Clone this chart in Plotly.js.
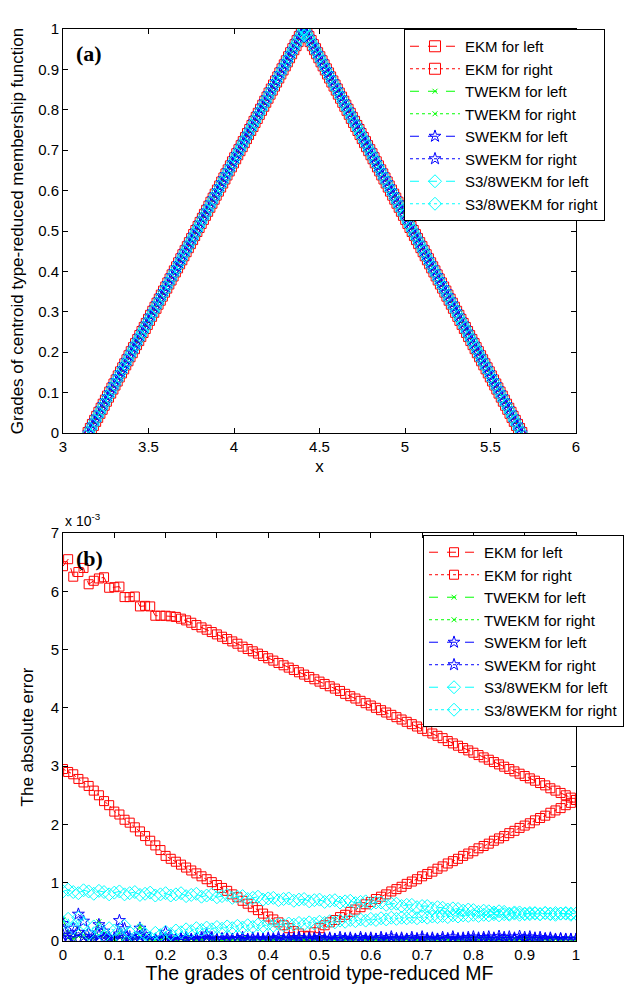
<!DOCTYPE html>
<html>
<head>
<meta charset="utf-8">
<script src="https://cdn.plot.ly/plotly-3.0.1.min.js"></script>
<style>
html,body{margin:0;padding:0;background:#fff;}
#chart{width:627px;height:984px;}
</style>
</head>
<body>
<div id="chart"></div>
<script>
// ---------- data ----------
const grades = [0,0.01,0.02,0.03,0.04,0.05,0.06,0.07,0.08,0.09,
0.10,0.11,0.12,0.13,0.14,0.15,0.16,0.17,0.18,0.19,
0.20,0.21,0.22,0.23,0.24,0.25,0.26,0.27,0.28,0.29,
0.30,0.31,0.32,0.33,0.34,0.35,0.36,0.37,0.38,0.39,
0.40,0.41,0.42,0.43,0.44,0.45,0.46,0.47,0.48,0.49,
0.50,0.51,0.52,0.53,0.54,0.55,0.56,0.57,0.58,0.59,
0.60,0.61,0.62,0.63,0.64,0.65,0.66,0.67,0.68,0.69,
0.70,0.71,0.72,0.73,0.74,0.75,0.76,0.77,0.78,0.79,
0.80,0.81,0.82,0.83,0.84,0.85,0.86,0.87,0.88,0.89,
0.90,0.91,0.92,0.93,0.94,0.95,0.96,0.97,0.98,0.99,1.00];

// (a) left / right end points of the type-reduced set (x) at each grade
const leftX = [3.150,3.163,3.175,3.188,3.200,3.213,3.226,3.238,3.251,3.263,
3.276,3.289,3.301,3.314,3.326,3.339,3.352,3.364,3.377,3.389,
3.402,3.415,3.427,3.440,3.452,3.465,3.478,3.490,3.503,3.515,
3.528,3.541,3.553,3.566,3.578,3.591,3.604,3.616,3.629,3.641,
3.654,3.667,3.679,3.692,3.704,3.717,3.730,3.742,3.755,3.767,
3.780,3.793,3.805,3.818,3.830,3.843,3.856,3.868,3.881,3.893,
3.906,3.919,3.931,3.944,3.956,3.969,3.982,3.994,4.007,4.019,
4.032,4.045,4.057,4.070,4.082,4.095,4.108,4.120,4.133,4.145,
4.158,4.171,4.183,4.196,4.208,4.221,4.234,4.246,4.259,4.271,
4.284,4.297,4.309,4.322,4.334,4.347,4.360,4.372,4.385,4.397,4.410];
const rightX = [5.680,5.667,5.655,5.642,5.629,5.617,5.604,5.591,5.578,5.566,
5.553,5.540,5.528,5.515,5.502,5.490,5.477,5.464,5.451,5.439,
5.426,5.413,5.401,5.388,5.375,5.363,5.350,5.337,5.324,5.312,
5.299,5.286,5.274,5.261,5.248,5.236,5.223,5.210,5.197,5.185,
5.172,5.159,5.147,5.134,5.121,5.109,5.096,5.083,5.070,5.058,
5.045,5.032,5.020,5.007,4.994,4.982,4.969,4.956,4.943,4.931,
4.918,4.905,4.893,4.880,4.867,4.855,4.842,4.829,4.816,4.804,
4.791,4.778,4.766,4.753,4.740,4.728,4.715,4.702,4.689,4.677,
4.664,4.651,4.639,4.626,4.613,4.601,4.588,4.575,4.562,4.550,
4.537,4.524,4.512,4.499,4.486,4.474,4.461,4.448,4.435,4.423,4.410];

// (b) absolute errors, in units of 1e-3
const ekmLeftErr = [6.43,6.55,6.25,6.33,6.40,6.12,6.18,6.22,6.24,6.06,
6.07,6.08,5.90,5.90,5.91,5.74,5.75,5.74,5.58,5.58,
5.58,5.57,5.56,5.53,5.50,5.46,5.42,5.38,5.34,5.30,
5.26,5.22,5.18,5.14,5.10,5.05,5.01,4.97,4.93,4.89,
4.85,4.81,4.77,4.73,4.69,4.65,4.61,4.57,4.53,4.49,
4.45,4.41,4.37,4.33,4.29,4.24,4.20,4.16,4.12,4.08,
4.04,4.00,3.96,3.92,3.88,3.84,3.80,3.76,3.72,3.68,
3.64,3.60,3.56,3.52,3.48,3.43,3.39,3.35,3.31,3.27,
3.23,3.19,3.15,3.11,3.07,3.03,2.99,2.95,2.91,2.87,
2.83,2.79,2.75,2.71,2.67,2.62,2.58,2.54,2.50,2.46,2.42];
const ekmRightErr = [2.95,2.90,2.86,2.78,2.72,2.66,2.58,2.50,2.40,2.33,
2.22,2.17,2.08,2.03,1.95,1.88,1.80,1.72,1.64,1.56,
1.46,1.41,1.36,1.31,1.26,1.21,1.16,1.11,1.06,1.01,
0.96,0.91,0.86,0.80,0.75,0.69,0.64,0.58,0.53,0.47,
0.42,0.37,0.32,0.27,0.22,0.17,0.13,0.09,0.08,0.15,
0.22,0.27,0.32,0.36,0.41,0.45,0.50,0.54,0.58,0.63,
0.67,0.72,0.76,0.80,0.85,0.89,0.93,0.98,1.02,1.06,
1.11,1.15,1.19,1.24,1.28,1.33,1.37,1.41,1.46,1.50,
1.54,1.59,1.63,1.67,1.72,1.76,1.80,1.85,1.89,1.94,
1.98,2.02,2.07,2.11,2.15,2.20,2.24,2.28,2.33,2.37,2.42];
const twekmLeftErr = [0.36,0.15,0.06,0.20,0.10,0.04,0.08,0.33,0.12,0.04,
0.03,0.14,0.06,0.03,0.04,0.25,0.09,0.03,0.02,0.03,
0.08,0.03,0.02,0.03,0.02,0.03,0.02,0.03,0.05,0.02,
0.03,0.02,0.03,0.02,0.03,0.02,0.03,0.02,0.03,0.02,
0.03,0.02,0.03,0.02,0.03,0.02,0.03,0.02,0.03,0.02,
0.03,0.02,0.03,0.02,0.03,0.02,0.03,0.02,0.03,0.02,
0.03,0.02,0.03,0.02,0.03,0.02,0.03,0.02,0.03,0.02,
0.03,0.02,0.03,0.02,0.03,0.02,0.03,0.02,0.03,0.02,
0.03,0.02,0.03,0.02,0.03,0.02,0.03,0.02,0.03,0.02,
0.03,0.02,0.03,0.02,0.03,0.02,0.03,0.02,0.03,0.02,0.02];
const twekmRightErr = [0.12,0.05,0.04,0.08,0.05,0.04,0.04,0.10,0.05,0.04,
0.04,0.06,0.04,0.04,0.04,0.07,0.04,0.04,0.04,0.04,
0.05,0.04,0.04,0.04,0.04,0.04,0.04,0.04,0.04,0.04,
0.04,0.04,0.04,0.04,0.04,0.04,0.04,0.04,0.04,0.04,
0.04,0.04,0.04,0.04,0.04,0.04,0.04,0.04,0.04,0.04,
0.04,0.04,0.04,0.04,0.04,0.04,0.04,0.04,0.04,0.04,
0.04,0.04,0.04,0.04,0.04,0.04,0.04,0.04,0.04,0.04,
0.04,0.04,0.04,0.04,0.04,0.04,0.04,0.04,0.04,0.04,
0.04,0.04,0.04,0.04,0.04,0.04,0.04,0.04,0.04,0.04,
0.04,0.04,0.04,0.04,0.04,0.04,0.04,0.04,0.04,0.04,0.04];
const swekmLeftErr = [0.30,0.10,0.22,0.46,0.34,0.14,0.05,0.28,0.17,0.06,
0.04,0.35,0.21,0.07,0.04,0.22,0.11,0.04,0.03,0.05,
0.15,0.07,0.03,0.04,0.06,0.03,0.04,0.05,0.12,0.05,
0.03,0.04,0.05,0.03,0.04,0.06,0.03,0.05,0.04,0.03,
0.05,0.04,0.06,0.03,0.05,0.04,0.06,0.03,0.05,0.04,
0.06,0.04,0.05,0.03,0.06,0.04,0.05,0.03,0.06,0.04,
0.05,0.03,0.06,0.04,0.07,0.04,0.05,0.03,0.06,0.04,
0.07,0.04,0.05,0.03,0.06,0.04,0.07,0.04,0.05,0.06,
0.07,0.05,0.06,0.07,0.05,0.08,0.06,0.07,0.05,0.08,
0.06,0.07,0.05,0.06,0.04,0.05,0.03,0.04,0.03,0.03,0.03];
const swekmRightErr = [0.10,0.04,0.06,0.15,0.08,0.03,0.02,0.10,0.05,0.02,
0.02,0.12,0.06,0.02,0.02,0.08,0.04,0.02,0.02,0.02,
0.05,0.02,0.02,0.03,0.02,0.02,0.03,0.02,0.04,0.02,
0.02,0.03,0.02,0.02,0.03,0.02,0.02,0.03,0.02,0.02,
0.03,0.02,0.02,0.03,0.02,0.02,0.03,0.02,0.02,0.03,
0.02,0.02,0.03,0.02,0.02,0.03,0.02,0.02,0.03,0.02,
0.02,0.03,0.02,0.02,0.03,0.02,0.02,0.03,0.02,0.02,
0.03,0.02,0.02,0.03,0.02,0.02,0.03,0.02,0.02,0.03,
0.02,0.02,0.03,0.02,0.02,0.03,0.02,0.02,0.03,0.02,
0.02,0.03,0.02,0.02,0.03,0.02,0.02,0.03,0.02,0.02,0.02];
const s38LeftErr = [0.85,0.88,0.84,0.82,0.87,0.85,0.81,0.86,0.84,0.80,
0.83,0.85,0.80,0.82,0.84,0.79,0.81,0.83,0.78,0.80,
0.82,0.78,0.80,0.82,0.77,0.79,0.81,0.76,0.78,0.80,
0.75,0.77,0.79,0.74,0.76,0.77,0.72,0.74,0.76,0.71,
0.73,0.74,0.70,0.72,0.73,0.69,0.71,0.72,0.68,0.70,
0.71,0.67,0.69,0.70,0.66,0.68,0.69,0.65,0.67,0.68,
0.64,0.66,0.66,0.62,0.64,0.64,0.60,0.62,0.62,0.58,
0.60,0.60,0.56,0.58,0.57,0.54,0.56,0.55,0.52,0.54,
0.53,0.50,0.52,0.51,0.49,0.51,0.50,0.47,0.49,0.49,
0.46,0.48,0.48,0.46,0.48,0.47,0.45,0.47,0.47,0.45,0.47];
const s38RightErr = [0.32,0.38,0.22,0.40,0.30,0.12,0.25,0.20,0.08,0.22,
0.18,0.08,0.26,0.15,0.06,0.20,0.12,0.06,0.14,0.10,
0.16,0.12,0.18,0.15,0.20,0.17,0.22,0.19,0.23,0.20,
0.24,0.21,0.25,0.22,0.26,0.23,0.27,0.24,0.28,0.25,
0.29,0.26,0.29,0.27,0.30,0.28,0.31,0.29,0.32,0.30,
0.33,0.31,0.34,0.32,0.35,0.33,0.36,0.34,0.37,0.35,
0.38,0.36,0.39,0.37,0.40,0.38,0.40,0.39,0.41,0.39,
0.42,0.40,0.42,0.41,0.43,0.41,0.44,0.42,0.44,0.43,
0.45,0.43,0.45,0.44,0.46,0.44,0.46,0.45,0.47,0.45,
0.47,0.46,0.47,0.46,0.48,0.46,0.48,0.47,0.48,0.47,0.47];

const seriesNames = ['EKM for left','EKM for right','TWEKM for left','TWEKM for right',
  'SWEKM for left','SWEKM for right','S3/8WEKM for left','S3/8WEKM for right'];

// ---------- styles ----------
const styles = [
  {color:'#ff0000', symbol:'square-open', size:9, topSize:11, dash:'dash'},
  {color:'#ff0000', symbol:'square-open', size:9, topSize:11, dash:'dot'},
  {color:'#00ff00', symbol:'x-thin', size:5, topSize:5, dash:'dash'},
  {color:'#00ff00', symbol:'x-thin', size:5, topSize:5, dash:'dot'},
  {color:'#0000ff', symbol:'star-open', size:9, topSize:9, dash:'dash'},
  {color:'#0000ff', symbol:'star-open', size:9, topSize:9, dash:'dot'},
  {color:'#00ffff', symbol:'diamond-open', size:10, topSize:10, dash:'dash'},
  {color:'#00ffff', symbol:'diamond-open', size:10, topSize:10, dash:'dot'}
];

const topX = [leftX,rightX,leftX,rightX,leftX,rightX,leftX,rightX];
const botY = [ekmLeftErr,ekmRightErr,twekmLeftErr,twekmRightErr,swekmLeftErr,swekmRightErr,s38LeftErr,s38RightErr];

const traces = [];
seriesNames.forEach((name,i)=>{
  const s = styles[i];
  traces.push({
    type:'scatter', mode:'lines+markers', name:name,
    x: topX[i], y: grades, xaxis:'x', yaxis:'y', legend:'legend',
    line:{color:s.color, width:1, dash:s.dash},
    marker:{symbol:s.symbol, size:s.topSize, color:s.color, line:{color:s.color, width:1}}
  });
});
seriesNames.forEach((name,i)=>{
  const s = styles[i];
  traces.push({
    type:'scatter', mode:'lines+markers', name:name,
    x: grades, y: botY[i], xaxis:'x2', yaxis:'y2', legend:'legend2',
    line:{color:s.color, width:1, dash:s.dash},
    marker:{symbol:s.symbol, size:s.size, color:s.color, line:{color:s.color, width:1}}
  });
});

const sans = 'Liberation Sans, Arial, sans-serif';
const axisBase = {
  showline:true, linecolor:'black', linewidth:1, mirror:'ticks',
  ticks:'inside', ticklen:5, tickcolor:'black', tickwidth:1,
  showgrid:false, zeroline:false, automargin:false,
  tickfont:{family:sans, size:15, color:'black'}
};
const titleFont = {family:sans, size:17, color:'black'};
const legendBase = {
  bgcolor:'white', bordercolor:'black', borderwidth:1,
  font:{family:sans, size:15, color:'black'},
  xanchor:'left', yanchor:'top', itemwidth:50, tracegroupgap:0
};

const layout = {
  width:627, height:984,
  margin:{l:63, r:51, t:29, b:43, autoexpand:false},
  paper_bgcolor:'white', plot_bgcolor:'white',
  showlegend:true,
  xaxis: Object.assign({}, axisBase, {domain:[0,1], anchor:'y', range:[3,6], tick0:3, dtick:0.5,
    title:{text:'x', font:titleFont, standoff:6}}),
  yaxis: Object.assign({}, axisBase, {domain:[0.557,1], anchor:'x', range:[0,1], tick0:0, dtick:0.1,
    title:{text:'Grades of centroid type-reduced membership function', font:titleFont, standoff:10}}),
  xaxis2: Object.assign({}, axisBase, {domain:[0,1], anchor:'y2', range:[0,1], tick0:0, dtick:0.1,
    title:{text:'The grades of centroid type-reduced MF', font:{family:sans, size:19.5, color:'black'}, standoff:5}}),
  yaxis2: Object.assign({}, axisBase, {domain:[0,0.4474], anchor:'x2', range:[0,7], tick0:0, dtick:1,
    title:{text:'The absolute error', font:titleFont, standoff:12}}),
  legend: Object.assign({}, legendBase, {x:0.6647, y:1}),
  legend2: Object.assign({}, legendBase, {x:0.7018, y:0.4452}),
  annotations:[
    {text:'<b>(a)</b>', xref:'x domain', yref:'y domain', x:0.022, y:0.975, xanchor:'left', yanchor:'top',
     showarrow:false, font:{family:'Liberation Serif, Times New Roman, serif', size:22, color:'black'}},
    {text:'<b>(b)</b>', xref:'x2 domain', yref:'y2 domain', x:0.022, y:0.972, xanchor:'left', yanchor:'top',
     showarrow:false, font:{family:'Liberation Serif, Times New Roman, serif', size:22, color:'black'}},
    {text:'x 10<sup>-3</sup>', xref:'x2 domain', yref:'y2 domain', x:0, y:1.005, xanchor:'left', yanchor:'bottom',
     showarrow:false, font:{family:sans, size:14, color:'black'}}
  ]
};

Plotly.newPlot('chart', traces, layout, {displayModeBar:false, staticPlot:true});
</script>
</body>
</html>
